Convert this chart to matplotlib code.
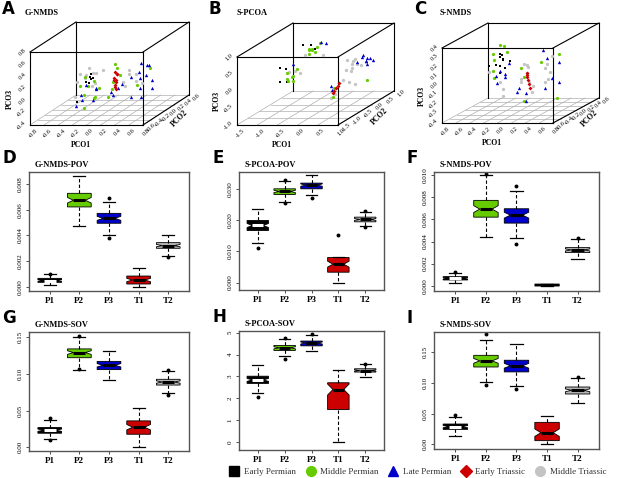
import numpy as np
import matplotlib
matplotlib.use('Agg')
import matplotlib.pyplot as plt
from matplotlib.lines import Line2D

plt.rcParams['font.family'] = ['Liberation Serif', 'DejaVu Serif']

# figure size in pixels
W, H = 617, 478

groups = ['Early Permian', 'Middle Permian', 'Late Permian', 'Early Triassic', 'Middle Triassic']
group_colors = ['black', '#66cc00', '#0000cc', '#cc0000', '#c4c4c4']
group_markers = ['s', 'o', '^', 'D', 'o']
point_sizes = [1.8, 2.3, 2.4, 2.0, 2.4]

# ---- ordination scores (PCO1, PCO2, PCO3) ----
A_early_permian = [(-0.28, 0.0, 0.14), (-0.26, 0.05, 0.10), (-0.30, -0.05, 0.08), (-0.27, 0.02, 0.18),
                   (-0.29, 0.0, 0.05), (-0.25, -0.02, 0.12), (-0.40, -0.1, -0.22)]
A_middle_permian = [(-0.36, 0.1, -0.05), (-0.30, -0.1, -0.12), (-0.22, 0.0, -0.2), (-0.33, 0.2, 0.0),
                    (-0.25, -0.2, -0.28), (-0.20, 0.1, -0.08), (-0.34, -0.15, 0.05), (-0.28, 0.15, -0.25),
                    (-0.38, 0.05, 0.12), (0.08, 0.0, 0.36), (0.05, 0.1, 0.25), (0.10, -0.1, 0.1),
                    (0.03, 0.0, -0.05), (0.12, 0.05, 0.15), (0.06, -0.15, -0.12), (0.52, 0.1, 0.25),
                    (0.45, -0.1, 0.05)]
A_late_permian = [(-0.40, 0.0, -0.15), (-0.33, -0.1, -0.2), (-0.25, 0.1, -0.1), (-0.20, -0.05, -0.22),
                  (-0.42, 0.15, -0.05), (-0.30, 0.2, -0.12), (-0.36, -0.2, -0.25), (0.02, 0.0, -0.1),
                  (0.10, -0.1, -0.12), (0.15, 0.05, 0.0), (0.06, 0.1, -0.08), (0.45, 0.0, 0.38),
                  (0.50, 0.1, 0.3), (0.55, -0.05, 0.2), (0.40, 0.05, 0.1), (0.48, -0.1, 0.0),
                  (0.52, 0.15, -0.1), (0.36, -0.1, -0.15), (0.44, 0.0, -0.18), (0.55, 0.1, 0.05),
                  (0.30, 0.0, 0.15), (0.50, -0.15, 0.28), (0.42, 0.2, 0.25)]
A_early_triassic = [(0.08, 0.0, 0.22), (0.09, 0.02, 0.18), (0.08, -0.02, 0.14), (0.085, 0.0, 0.10),
                    (0.09, 0.01, 0.06), (0.08, -0.01, 0.02), (0.075, 0.0, -0.03), (0.08, 0.02, -0.06),
                    (0.10, 0.0, 0.2), (0.07, 0.0, 0.1)]
A_middle_triassic = [(-0.42, 0.0, 0.2), (-0.35, 0.1, 0.25), (-0.28, -0.1, 0.22), (-0.22, 0.05, 0.18),
                     (-0.40, -0.1, 0.1), (-0.45, 0.2, 0.05), (-0.2, 0.0, 0.05), (-0.32, 0.15, 0.15),
                     (-0.15, 0.1, 0.22), (-0.38, -0.2, -0.1), (-0.25, 0.0, 0.0), (0.28, 0.0, 0.2),
                     (0.32, 0.1, 0.15), (0.25, -0.1, 0.1), (0.35, 0.05, 0.05), (0.30, -0.05, 0.28),
                     (0.38, 0.15, -0.02), (0.22, 0.0, 0.0)]

B_early_permian = [(-1.27, 0.0, 0.08), (-1.15, 0.05, 0.02), (-1.2, -0.1, -0.3), (-1.1, 0.0, -0.35),
                   (-1.0, 0.1, -0.25), (-0.7, 0.0, 0.75), (-0.4, 0.0, 0.63), (-0.55, 0.1, 0.7)]
B_middle_permian = [(-1.1, 0.0, -0.25), (-1.0, 0.05, -0.2), (-1.05, -0.05, -0.3), (-0.95, 0.0, -0.15),
                    (-1.15, 0.1, -0.1), (-0.9, -0.1, -0.28), (-0.85, 0.0, 0.05), (-0.55, 0.0, 0.62),
                    (-0.5, 0.05, 0.58), (-0.45, -0.05, 0.65), (-0.6, 0.1, 0.6), (-0.35, 0.0, 0.7),
                    (-0.4, 0.0, 0.56), (-0.3, 0.05, 0.8), (-0.5, -0.1, 0.52), (0.08, 0.0, -0.5),
                    (0.1, -0.1, -0.75), (0.95, -0.1, -0.25)]
B_late_permian = [(-0.25, 0.0, 0.85), (-0.15, 0.05, 0.8), (-0.95, 0.0, 0.2), (0.75, 0.0, 0.4),
                  (0.85, 0.05, 0.35), (0.9, -0.05, 0.3), (0.8, 0.1, 0.25), (0.95, 0.0, 0.38),
                  (0.7, -0.1, 0.3), (0.88, 0.0, 0.2), (1.0, 0.05, 0.28), (0.78, 0.0, 0.45),
                  (0.0, 0.0, -0.45), (0.05, -0.05, -0.55)]
B_early_triassic = [(0.2, 0.0, -0.36), (0.16, 0.0, -0.44), (0.12, 0.0, -0.52), (0.08, 0.0, -0.6),
                    (0.05, 0.0, -0.66)]
B_middle_triassic = [(0.4, 0.0, 0.3), (0.5, 0.05, 0.25), (0.55, -0.05, 0.1), (0.6, 0.0, 0.35),
                     (0.45, 0.1, 0.15), (0.65, 0.0, 0.2), (0.5, 0.0, 0.0), (0.42, -0.1, 0.05),
                     (0.7, 0.05, 0.15), (0.3, 0.0, -0.28), (0.45, 0.0, -0.35), (0.6, 0.0, -0.38),
                     (-0.9, 0.0, 0.0), (-0.8, 0.05, -0.1), (-1.05, 0.0, -0.05), (0.05, 0.0, -0.6),
                     (0.1, 0.0, -0.7), (0.0, 0.0, -0.8), (-0.2, 0.0, 0.45), (-0.65, 0.0, 0.45)]

C_early_permian = [(-0.3, 0.0, 0.17), (-0.28, 0.05, 0.13), (-0.32, -0.05, 0.1), (-0.25, 0.0, 0.15),
                   (-0.35, 0.1, 0.05), (-0.22, 0.0, 0.05), (-0.4, -0.1, 0.1), (-0.3, 0.0, 0.0),
                   (-0.18, 0.05, 0.12), (-0.26, 0.0, 0.19), (-0.29, 0.0, 0.2)]
C_middle_permian = [(-0.3, 0.0, 0.3), (-0.26, 0.05, 0.28), (-0.4, 0.0, 0.2), (-0.35, -0.05, 0.15),
                    (-0.2, 0.0, 0.22), (-0.45, 0.1, 0.0), (-0.38, 0.0, -0.05), (0.0, 0.0, 0.05),
                    (0.02, 0.05, -0.05), (0.05, 0.0, -0.3), (0.3, 0.0, 0.12), (0.55, 0.0, 0.2),
                    (0.53, 0.0, -0.27)]
C_late_permian = [(-0.3, 0.0, 0.02), (-0.25, 0.05, -0.05), (-0.2, -0.05, 0.0), (-0.35, 0.0, -0.03),
                  (-0.22, 0.1, 0.08), (-0.28, -0.1, -0.08), (-0.05, 0.0, -0.2), (0.05, 0.05, -0.22),
                  (0.08, 0.0, -0.3), (0.0, -0.05, -0.15), (0.33, 0.0, 0.25), (0.36, 0.05, 0.15),
                  (0.45, 0.0, -0.05), (0.55, 0.0, -0.1), (0.38, -0.05, -0.15), (0.5, 0.1, 0.1)]
C_early_triassic = [(0.09, 0.0, 0.0), (0.1, 0.0, -0.04), (0.11, 0.0, -0.08), (0.12, 0.0, -0.12),
                    (0.14, 0.0, -0.16), (0.1, 0.0, -0.02)]
C_middle_triassic = [(0.05, 0.0, 0.1), (0.08, 0.05, 0.05), (0.1, 0.0, 0.0), (0.04, -0.05, -0.05),
                     (0.12, 0.0, -0.1), (0.15, 0.05, -0.15), (0.0, 0.0, -0.1), (0.17, 0.0, -0.2),
                     (0.1, 0.0, 0.08), (-0.3, 0.0, -0.1), (-0.28, 0.05, -0.18), (-0.25, 0.0, -0.25),
                     (-0.45, 0.0, 0.01), (0.35, 0.0, 0.05), (0.4, 0.05, 0.0), (0.38, 0.0, 0.1),
                     (0.42, -0.05, -0.05), (0.45, 0.0, 0.18), (0.36, 0.0, -0.1)]

# axis ranges and ticks of the 3D plots
A_ticks = ([-0.8, -0.6, -0.4, -0.2, 0.0, 0.2, 0.4, 0.6, 0.8],
           [-0.6, -0.4, -0.2, 0.0, 0.2, 0.4, 0.6],
           [-0.4, -0.2, 0.0, 0.2, 0.4, 0.6, 0.8])
B_ticks = ([-1.5, -1.0, -0.5, 0.0, 0.5, 1.0],
           [-1.5, -1.0, -0.5, 0.0, 0.5, 1.0],
           [-1.0, -0.5, 0.0, 0.5, 1.0])
C_ticks = ([-0.8, -0.6, -0.4, -0.2, 0.0, 0.2, 0.4, 0.6, 0.8],
           [-0.6, -0.4, -0.2, 0.0, 0.2, 0.4, 0.6],
           [-0.4, -0.3, -0.2, -0.1, 0.0, 0.1, 0.2, 0.3, 0.4])

# ---- boxplot statistics (P1, P2, P3, T1, T2) ----
periods = ['P1', 'P2', 'P3', 'T1', 'T2']
n_samples = [60, 60, 60, 60, 60]

D_q1 = [0.00034, 0.00621, 0.00494, 0.00021, 0.00299]
D_med = [0.00047, 0.00673, 0.00532, 0.00052, 0.00320]
D_q3 = [0.00065, 0.00727, 0.00571, 0.00083, 0.00343]
D_lo = [0.00013, 0.00475, 0.00403, 0.00000, 0.00239]
D_hi = [0.00096, 0.00865, 0.00662, 0.00143, 0.00400]
D_out = [[0.00101], [], [0.00688, 0.00377], [], [0.00233]]

E_q1 = [0.01671, 0.02829, 0.03010, 0.00332, 0.01950]
E_med = [0.01832, 0.02925, 0.03129, 0.00589, 0.02025]
E_q3 = [0.01993, 0.03010, 0.03193, 0.00804, 0.02100]
E_lo = [0.01264, 0.02582, 0.02818, 0.00000, 0.01800]
E_hi = [0.02368, 0.03246, 0.03439, 0.00804, 0.02260]
E_out = [[0.01125], [0.0255, 0.0329], [0.0271], [0.01511], [0.0229, 0.0178]]

F_q1 = [0.00052, 0.00621, 0.00567, -0.00003, 0.00300]
F_med = [0.00067, 0.00694, 0.00639, 0.00006, 0.00324]
F_q3 = [0.00082, 0.00773, 0.00697, 0.00015, 0.00345]
F_lo = [0.00021, 0.00442, 0.00430, -0.00005, 0.00239]
F_hi = [0.00118, 0.01000, 0.00860, 0.00018, 0.00421]
F_out = [[0.00121], [0.01010], [0.00906, 0.00376], [], [0.00428]]

G_q1 = [0.0192, 0.1220, 0.1058, 0.0178, 0.0848]
G_med = [0.0233, 0.1290, 0.1117, 0.0274, 0.0889]
G_q3 = [0.0269, 0.1340, 0.1170, 0.0360, 0.0926]
G_lo = [0.0114, 0.1049, 0.0917, 0.0009, 0.0739]
G_hi = [0.0374, 0.1505, 0.1318, 0.0533, 0.1035]
G_out = [[0.0406, 0.0100], [0.1068, 0.1520], [], [], [0.1050, 0.0716]]

H_q1 = [2.68, 4.19, 4.40, 1.48, 3.20]
H_med = [2.84, 4.31, 4.53, 2.40, 3.27]
H_q3 = [3.01, 4.42, 4.62, 2.71, 3.35]
H_lo = [2.22, 3.93, 4.16, 0.00, 2.98]
H_hi = [3.50, 4.72, 4.88, 3.29, 3.55]
H_out = [[2.08], [3.82, 4.78], [4.92], [], [3.58]]

I_q1 = [0.0244, 0.126, 0.118, 0.0060, 0.0820]
I_med = [0.0288, 0.136, 0.128, 0.0190, 0.0880]
I_q3 = [0.0331, 0.145, 0.137, 0.0358, 0.0934]
I_lo = [0.0130, 0.1016, 0.0956, 0.0000, 0.0673]
I_hi = [0.0440, 0.1706, 0.1640, 0.0456, 0.1080]
I_out = [[0.048], [0.180, 0.096], [0.090], [], [0.110]]

box_colors = ['black', '#66cc00', '#0000cc', '#cc0000', '#b8b8b8']
median_colors = ['white', 'black', 'black', 'black', 'black']

fig = plt.figure(figsize=(W / 100, H / 100), dpi=100)


def px_axes(left, top, right, bottom):
    return fig.add_axes([left / W, 1 - bottom / H, (right - left) / W, (bottom - top) / H])


def proj(pts, lims, geo):
    (x0, x1), (y0, y1), (z0, z1) = lims
    fw, fh, dx, dy = geo
    p = np.asarray(pts, float)
    ty = (p[:, 1] - y0) / (y1 - y0)
    u = fw * (p[:, 0] - x0) / (x1 - x0) + dx * ty
    v = fh * (p[:, 2] - z0) / (z1 - z0) + dy * ty
    return u, v


def scatter3d(left, bottom, geo, ticks, data, title, title_x, letter):
    fw, fh, dx, dy = geo
    ax = fig.add_axes([left / W, 1 - bottom / H, (fw + dx) / W, (fh + dy) / H])
    ax.set_xlim(0, fw + dx)
    ax.set_ylim(0, fh + dy)
    ax.axis('off')
    xt, yt, zt = ticks
    lims = ((xt[0], xt[-1]), (yt[0], yt[-1]), (zt[0], zt[-1]))
    (x0, x1), (y0, y1), (z0, z1) = lims

    def seg(p, q, **kw):
        u, v = proj([p, q], lims, geo)
        ax.plot(u, v, clip_on=False, **kw)

    # floor grid
    for x in xt:
        seg((x, y0, z0), (x, y1, z0), color='#b0b0b0', lw=0.5)
    for y in yt:
        seg((x0, y, z0), (x1, y, z0), color='#b0b0b0', lw=0.5)
    # box
    for p, q in [((x0, y0, z0), (x1, y0, z0)), ((x0, y0, z1), (x1, y0, z1)),
                 ((x0, y0, z0), (x0, y0, z1)), ((x1, y0, z0), (x1, y0, z1)),
                 ((x0, y1, z1), (x1, y1, z1)), ((x0, y1, z0), (x0, y1, z1)),
                 ((x1, y1, z0), (x1, y1, z1)), ((x0, y0, z1), (x0, y1, z1)),
                 ((x1, y0, z1), (x1, y1, z1)), ((x1, y0, z0), (x1, y1, z0))]:
        seg(p, q, color='black', lw=0.8)

    # points, middle triassic drawn first
    for gi in [4, 0, 1, 2, 3]:
        u, v = proj(data[gi], lims, geo)
        ax.plot(u, v, ls='', marker=group_markers[gi], color=group_colors[gi],
                ms=point_sizes[gi], mew=0)

    fs = 4.6
    for x in xt:
        u, v = proj([(x, y0, z0)], lims, geo)
        ax.text(u[0] + 3, v[0] - 3, '%.1f' % x, rotation=45, ha='center', va='top',
                fontsize=fs, clip_on=False)
    for z in zt:
        u, v = proj([(x0, y0, z)], lims, geo)
        ax.text(u[0] - 3, v[0], '%.1f' % z, rotation=45, ha='right', va='center',
                fontsize=fs, clip_on=False)
    for y in yt:
        u, v = proj([(x1, y, z0)], lims, geo)
        ax.text(u[0] + 3, v[0] - 2, '%.1f' % y, rotation=45, ha='left', va='center',
                fontsize=fs, clip_on=False)

    u, v = proj([((x0 + x1) / 2, y0, z0)], lims, geo)
    ax.text(u[0] - 6, v[0] - 20, 'PCO1', ha='center', va='center', fontsize=5.5,
            fontweight='bold', clip_on=False)
    u, v = proj([(x0, y0, (z0 + z1) / 2)], lims, geo)
    ax.text(u[0] - 20, v[0] - 10, 'PCO3', rotation=90, ha='center', va='center',
            fontsize=5.5, fontweight='bold', clip_on=False)
    u, v = proj([(x1, (y0 + y1) / 2, z0)], lims, geo)
    ax.text(u[0] + 14, v[0] - 8, 'PCO2', rotation=45, ha='center', va='center',
            fontsize=5.5, fontweight='bold', clip_on=False)

    fig.text(title_x / W, 1 - 13 / H, title, fontsize=6, fontweight='bold', va='center')
    fig.text((left - 28) / W, 1 - 9 / H, letter, fontsize=12, fontweight='bold',
             family='DejaVu Sans', va='center')


def boxpanel(box, q1, med, q3, lo, hi, out, ylim, yticks, fmt, title, letter):
    left, top, right, bottom = box
    ax = px_axes(left, top, right, bottom)
    stats = []
    for i in range(5):
        half = 1.58 * (q3[i] - q1[i]) / np.sqrt(n_samples[i])
        stats.append(dict(med=med[i], q1=q1[i], q3=q3[i], whislo=lo[i], whishi=hi[i],
                          fliers=out[i], cilo=med[i] - half, cihi=med[i] + half))
    bp = ax.bxp(stats, positions=range(1, 6), widths=0.8, shownotches=True,
                patch_artist=True, capwidths=0.4,
                whiskerprops=dict(color='black', lw=0.8, ls=(0, (3, 2))),
                capprops=dict(color='black', lw=0.9),
                flierprops=dict(marker='o', ms=1.8, mfc='black', mec='black'),
                boxprops=dict(lw=0.6))
    for i, patch in enumerate(bp['boxes']):
        patch.set_facecolor(box_colors[i])
        patch.set_edgecolor('black')
    for i, m in enumerate(bp['medians']):
        m.set_color(median_colors[i])
        m.set_linewidth(2.2)
    ax.set_xlim(0.3, 5.7)
    ax.set_ylim(*ylim)
    ax.set_yticks(yticks)
    ax.set_yticklabels([fmt % t for t in yticks], rotation=90, va='center', fontsize=5)
    ax.set_xticks(range(1, 6))
    ax.set_xticklabels(periods, fontsize=6.5, fontweight='bold')
    ax.tick_params(axis='both', length=2.5, width=0.6, pad=2, color='#333333')
    for s in ax.spines.values():
        s.set_color('#555555')
        s.set_linewidth(1.0)
    fig.text((left + 6) / W, 1 - (top - 7) / H, title, fontsize=6, fontweight='bold',
             va='center')
    fig.text((left - 27) / W, 1 - (top - 14) / H, letter, fontsize=12, fontweight='bold',
             family='DejaVu Sans', va='center')


scatter3d(30, 125, (113, 73, 46, 30), A_ticks,
          [A_early_permian, A_middle_permian, A_late_permian, A_early_triassic, A_middle_triassic],
          'G-NMDS', 25, 'A')
scatter3d(237, 125, (101, 68, 56, 34), B_ticks,
          [B_early_permian, B_middle_permian, B_late_permian, B_early_triassic, B_middle_triassic],
          'S-PCOA', 237, 'B')
scatter3d(442, 123, (111, 75, 46, 25), C_ticks,
          [C_early_permian, C_middle_permian, C_late_permian, C_early_triassic, C_middle_triassic],
          'S-NMDS', 440, 'C')

boxpanel((29, 172, 189, 291), D_q1, D_med, D_q3, D_lo, D_hi, D_out, (-0.000335, 0.00893),
         [0.000, 0.002, 0.004, 0.006, 0.008], '%.3f', 'G-NMDS-POV', 'D')
boxpanel((239, 172, 384, 290), E_q1, E_med, E_q3, E_lo, E_hi, E_out, (-0.0024, 0.0355),
         [0.000, 0.010, 0.020, 0.030], '%.3f', 'S-PCOA-POV', 'E')
boxpanel((434, 172, 599, 291), F_q1, F_med, F_q3, F_lo, F_hi, F_out, (-0.00048, 0.0103),
         [0.000, 0.002, 0.004, 0.006, 0.008, 0.010], '%.3f', 'S-NMDS-POV', 'F')
boxpanel((29, 332, 189, 451), G_q1, G_med, G_q3, G_lo, G_hi, G_out, (-0.005, 0.157),
         [0.00, 0.05, 0.10, 0.15], '%.2f', 'G-NMDS-SOV', 'G')
boxpanel((239, 331, 384, 450), H_q1, H_med, H_q3, H_lo, H_hi, H_out, (-0.37, 5.08),
         [0, 1, 2, 3, 4, 5], '%d', 'S-PCOA-SOV', 'H')
boxpanel((434, 332, 599, 449), I_q1, I_med, I_q3, I_lo, I_hi, I_out, (-0.0076, 0.183),
         [0.00, 0.05, 0.10, 0.15], '%.2f', 'S-NMDS-SOV', 'I')

handles = [Line2D([], [], ls='', marker=m, color=c, ms=7 if m != 'D' else 6)
           for m, c in zip(group_markers, group_colors)]
fig.legend(handles, groups, loc='center', bbox_to_anchor=(418 / W, 1 - 472 / H), ncol=5,
           frameon=False, fontsize=6.5, handlelength=1.0, handletextpad=0.5,
           columnspacing=1.2, labelcolor='#333333')

fig.savefig('out.png', dpi=100)
